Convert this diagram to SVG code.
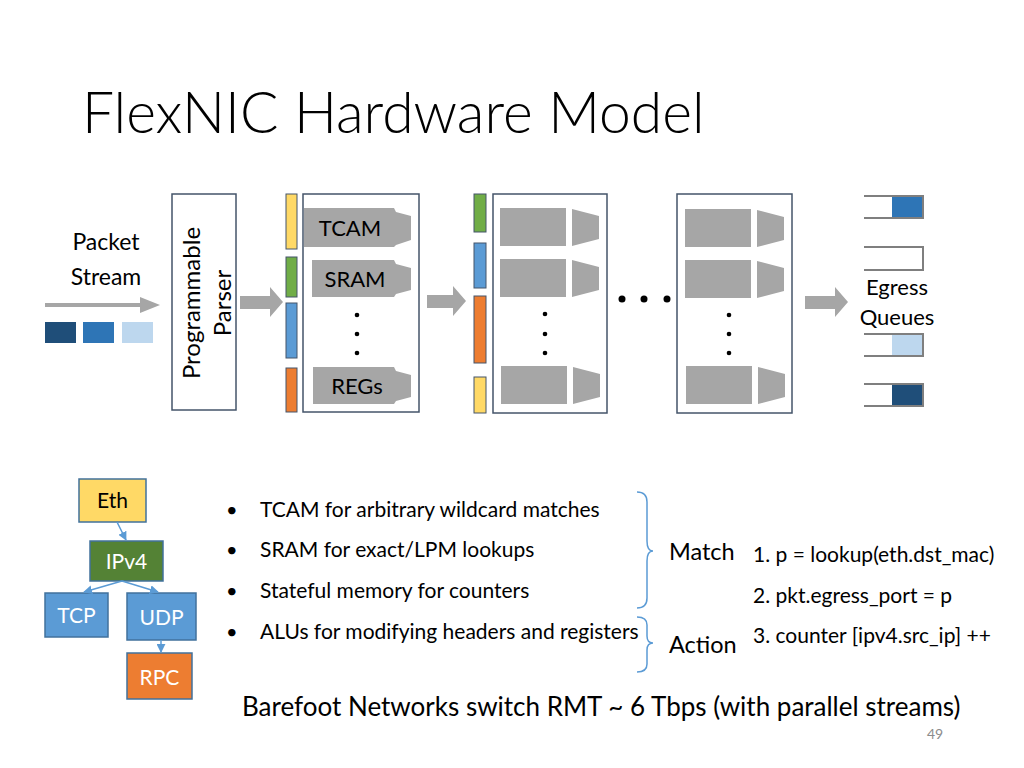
<svg xmlns="http://www.w3.org/2000/svg" width="1024" height="768" viewBox="0 0 1024 768">
<defs>
<style>
text{font-family:"Lato","Open Sans","Liberation Sans",sans-serif;fill:#000}
.box{fill:#fff;stroke:#44546A;stroke-width:1.5}
.g{fill:#A6A6A6}
.bar{stroke:#44546A;stroke-width:1}
.dot{fill:#000}
.q{fill:none;stroke:#7F7F7F;stroke-width:2}
.tn{stroke:#41719C;stroke-width:1.5}
.tl{stroke:#5B9BD5;stroke-width:1.5;fill:none;marker-end:url(#ah)}
.brace{fill:none;stroke:#5B9BD5;stroke-width:1.5}
.lbl{font-size:22px}
</style>
<marker id="ah" viewBox="0 0 10 10" refX="9" refY="5" markerWidth="6" markerHeight="6" orient="auto">
<path d="M0,0 L10,5 L0,10 Z" fill="#5B9BD5"/>
</marker>
<g id="row">
<rect x="0" y="0" width="66" height="38" class="g"/>
<polygon points="72,1 99,8 99,31 72,38" class="g"/>
</g>
</defs>
<rect width="1024" height="768" fill="#fff"/>

<text x="82" y="133" font-size="57" font-weight="300">FlexNIC Hardware Model</text>

<g id="packet-stream">
<text x="106" y="250" font-size="23" text-anchor="middle">Packet</text>
<text x="106" y="285" font-size="23" text-anchor="middle">Stream</text>
<line x1="45" y1="305" x2="146" y2="305" stroke="#A6A6A6" stroke-width="4"/>
<polygon points="140,297 160,305 140,313" fill="#A6A6A6"/>
<rect x="45" y="322" width="31" height="21" fill="#1F4E79"/>
<rect x="83" y="322" width="31" height="21" fill="#2E75B6"/>
<rect x="122" y="322" width="31" height="21" fill="#BDD7EE"/>
</g>

<g id="parser">
<rect x="172" y="194" width="64" height="216" class="box"/>
<text transform="translate(200,303) rotate(-90)" font-size="24" text-anchor="middle">Programmable</text>
<text transform="translate(231,303) rotate(-90)" font-size="24" text-anchor="middle">Parser</text>
</g>

<g id="stage1">
<rect x="286" y="194" width="11" height="55" fill="#FFD966" class="bar"/>
<rect x="286" y="257" width="11" height="40" fill="#70AD47" class="bar"/>
<rect x="286" y="303" width="11" height="55" fill="#5B9BD5" class="bar"/>
<rect x="286" y="368" width="11" height="44" fill="#ED7D31" class="bar"/>
<rect x="303" y="194" width="116" height="218" class="box"/>
<polygon points="304,208 394,208 396,212 411,216 411,240 396,245 394,247 304,247" class="g"/>
<polygon points="312,260 394,260 396,264 411,268 411,290 396,294 394,297 312,297" class="g"/>
<polygon points="313,367 394,367 396,371 411,375 411,397 396,401 394,404 313,404" class="g"/>
<text x="350" y="236" class="lbl" text-anchor="middle">TCAM</text>
<text x="355" y="287" class="lbl" text-anchor="middle">SRAM</text>
<text x="357" y="394" class="lbl" text-anchor="middle">REGs</text>
<circle cx="357" cy="315" r="2.3" class="dot"/>
<circle cx="357" cy="334" r="2.3" class="dot"/>
<circle cx="357" cy="353" r="2.3" class="dot"/>
</g>

<g id="stage2">
<rect x="474" y="194" width="12" height="38" fill="#70AD47" class="bar"/>
<rect x="474" y="243" width="12" height="45" fill="#5B9BD5" class="bar"/>
<rect x="474" y="296" width="12" height="67" fill="#ED7D31" class="bar"/>
<rect x="474" y="377" width="12" height="36" fill="#FFD966" class="bar"/>
<rect x="493" y="194" width="114" height="219" class="box"/>
<use href="#row" x="500" y="208"/>
<use href="#row" x="500" y="259"/>
<use href="#row" x="501" y="366"/>
<circle cx="545" cy="314" r="2.3" class="dot"/>
<circle cx="545" cy="334" r="2.3" class="dot"/>
<circle cx="545" cy="353" r="2.3" class="dot"/>
</g>

<g id="ellipsis">
<circle cx="622" cy="299" r="3.5" class="dot"/>
<circle cx="644" cy="299" r="3.5" class="dot"/>
<circle cx="667" cy="299" r="3.5" class="dot"/>
</g>

<g id="stage3">
<rect x="677" y="194" width="115" height="219" class="box"/>
<use href="#row" x="685" y="209"/>
<use href="#row" x="685" y="260"/>
<use href="#row" x="686" y="366"/>
<circle cx="729" cy="315" r="2.3" class="dot"/>
<circle cx="729" cy="334" r="2.3" class="dot"/>
<circle cx="729" cy="353" r="2.3" class="dot"/>
</g>

<g id="egress">
<rect x="892" y="196" width="31" height="22" fill="#2E75B6"/>
<path d="M864,196 H923 V218 H864" class="q"/>
<path d="M864,247 H923 V270 H864" class="q"/>
<rect x="892" y="334" width="31" height="22" fill="#BDD7EE"/>
<path d="M864,334 H923 V356 H864" class="q"/>
<rect x="892" y="384" width="31" height="22" fill="#1F4E79"/>
<path d="M864,384 H923 V406 H864" class="q"/>
<text x="897" y="295" font-size="22" text-anchor="middle">Egress</text>
<text x="897" y="325" font-size="22" text-anchor="middle">Queues</text>
</g>

<g id="tree-eth"><rect x="79" y="479" width="67" height="43" fill="#FFD966" class="tn"/><text x="112.5" y="508" font-size="21" text-anchor="middle">Eth</text></g>
<g id="tree-ipv4"><rect x="90" y="541" width="73" height="40" fill="#548235" class="tn"/><text x="126.5" y="569" font-size="21" text-anchor="middle" style="fill:#fff">IPv4</text></g>
<g id="tree-tcp"><rect x="45" y="593" width="63" height="44" fill="#5B9BD5" class="tn"/><text x="76.5" y="623" font-size="21" text-anchor="middle" style="fill:#fff">TCP</text></g>
<g id="tree-udp"><rect x="127" y="593" width="69" height="47" fill="#5B9BD5" class="tn"/><text x="161.5" y="625" font-size="21" text-anchor="middle" style="fill:#fff">UDP</text></g>
<g id="tree-rpc"><rect x="127" y="653" width="65" height="46" fill="#ED7D31" class="tn"/><text x="159.5" y="685" font-size="21" text-anchor="middle" style="fill:#fff">RPC</text></g>

<g id="connectors">
<path d="M240,296 H270 V287 L283,302 L270,317 V309 H240 Z" class="g"/>
<path d="M427,295 H453 V286 L466,301 L453,316 V308 H427 Z" class="g"/>
<path d="M805,296 H835 V287 L848,302 L835,317 V309 H805 Z" class="g"/>
<line x1="117" y1="522" x2="126" y2="540" class="tl"/>
<line x1="122" y1="581" x2="84" y2="592" class="tl"/>
<line x1="122" y1="581" x2="158" y2="592" class="tl"/>
<line x1="161" y1="640" x2="161" y2="652" class="tl"/>
</g>

<g id="bullets">
<text x="226" y="517" font-size="20">•</text><text x="260" y="517" font-size="21">TCAM for arbitrary wildcard matches</text>
<text x="226" y="557" font-size="20">•</text><text x="260" y="557" font-size="21">SRAM for exact/LPM lookups</text>
<text x="226" y="598" font-size="20">•</text><text x="260" y="598" font-size="21">Stateful memory for counters</text>
<text x="226" y="639" font-size="20">•</text><text x="260" y="639" font-size="21">ALUs for modifying headers and registers</text>
</g>

<g id="braces">
<path d="M637,492 Q647,492 647,502 V541 Q647,551 653,551 Q647,551 647,561 V598 Q647,608 637,608" class="brace"/>
<path d="M637,617 Q647,617 647,625 V636 Q647,643 653,643 Q647,643 647,650 V664 Q647,672 637,672" class="brace"/>
</g>
<text x="669" y="560" font-size="23.5">Match</text>
<text x="669" y="653" font-size="23.5">Action</text>
<text x="753" y="562" font-size="21">1. p = lookup(eth.dst_mac)</text>
<text x="753" y="603" font-size="21">2. pkt.egress_port = p</text>
<text x="753" y="643" font-size="21">3. counter [ipv4.src_ip] ++</text>

<text x="242" y="716" font-size="26">Barefoot Networks switch RMT ~ 6 Tbps (with parallel streams)</text>
<text x="935" y="739" font-size="14" text-anchor="middle" style="fill:#8C8C8C">49</text>
</svg>
